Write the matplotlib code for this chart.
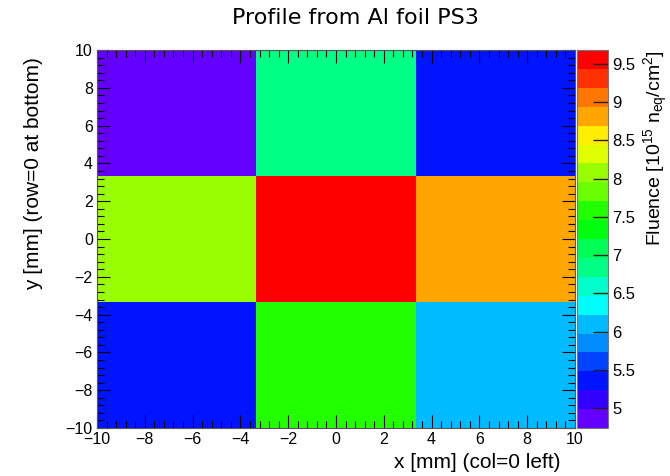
import colorsys
import numpy as np
import matplotlib
matplotlib.use("Agg")
import matplotlib.pyplot as plt
from matplotlib.colors import ListedColormap, Normalize
from matplotlib.ticker import MultipleLocator

# cell edges in mm
x_edges = [-10, -10 / 3, 10 / 3, 10]
y_edges = [-10, -10 / 3, 10 / 3, 10]

# fluence per cell, row 0 at the bottom, col 0 at the left
fluence = [
    [5.38, 7.58, 6.10],
    [8.07, 9.68, 8.81],
    [4.74, 6.84, 5.36],
]

z_min = 4.74
z_max = 9.68
n_levels = 20

# ROOT "pretty" palette (violet -> red), 50 colours, sampled for 20 contours
pal = []
for i in range(49):
    hue = 280 - (i + 1) * (280 / 50)
    pal.append(colorsys.hls_to_rgb(hue / 360, 0.5, 1.0))
pal.append((1.0, 0.0, 0.0))
cols = [pal[int((k + 0.99) * 50 / n_levels)] for k in range(n_levels)]
cmap = ListedColormap(cols)

plt.rcParams['font.family'] = ['Liberation Sans', 'DejaVu Sans']
plt.rcParams['mathtext.fontset'] = 'custom'
plt.rcParams['mathtext.rm'] = 'Liberation Sans'
plt.rcParams['mathtext.it'] = 'Liberation Sans'

fig = plt.figure(figsize=(6.7, 4.76), dpi=100)
ax = fig.add_axes([0.1448, 0.1008, 0.7134, 0.7941])
cax = fig.add_axes([0.8612, 0.1008, 0.0463, 0.7941])

mesh = ax.pcolormesh(x_edges, y_edges, np.array(fluence), cmap=cmap,
                     norm=Normalize(vmin=z_min, vmax=z_max), shading='flat')
ax.set_xlim(-10, 10)
ax.set_ylim(-10, 10)

ax.xaxis.set_major_locator(MultipleLocator(2))
ax.xaxis.set_minor_locator(MultipleLocator(0.4))
ax.yaxis.set_major_locator(MultipleLocator(2))
ax.yaxis.set_minor_locator(MultipleLocator(0.4))
ax.tick_params(which='both', direction='in', top=True, right=True,
               labelsize=11.5, color='black', pad=3)
ax.tick_params(which='major', length=9.5, width=0.8)
ax.tick_params(which='minor', length=4.8, width=0.8)
for s in ax.spines.values():
    s.set_color('#555555')
    s.set_linewidth(0.8)

ax.set_xlabel('x [mm] (col=0 left)', fontsize=15, ha='right', va='center')
ax.xaxis.set_label_coords(0.969, -0.09)
ax.set_ylabel('y [mm] (row=0 at bottom)', fontsize=15, ha='right', va='center')
ax.yaxis.set_label_coords(-0.132, 0.981)

cb = fig.colorbar(mesh, cax=cax)
cb.set_ticks([5, 5.5, 6, 6.5, 7, 7.5, 8, 8.5, 9, 9.5])
cb.set_ticklabels(['5', '5.5', '6', '6.5', '7', '7.5', '8', '8.5', '9', '9.5'])
cax.tick_params(direction='in', length=10.5, width=1, color='#222222',
                labelsize=12, pad=3)
cax.minorticks_off()
cb.outline.set_edgecolor('#777777')
cb.outline.set_linewidth(0.8)
cax.set_ylabel(r'Fluence [10$^{15}$ n$_{eq}$/cm$^{2}$]', fontsize=14,
               ha='right', va='center')
cax.yaxis.set_label_coords(2.56, 1.0)

fig.text(0.53, 0.962, 'Profile from Al foil PS3', ha='center', va='center',
         fontsize=16, family='DejaVu Sans')

fig.savefig('out.png', dpi=100)
